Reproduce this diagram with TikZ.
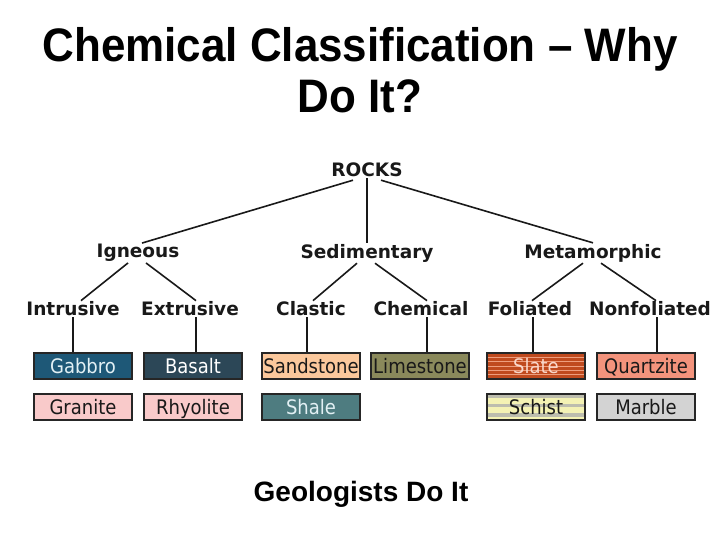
\documentclass[tikz,border=0pt]{standalone}
\usepackage{fontspec}
\setmainfont{Liberation Sans}
\newfontfamily\titlefont[FakeStretch=0.935]{Liberation Sans}
\newfontfamily\treefont{DejaVu Sans}
\newfontfamily\boxfont[FakeStretch=0.9]{DejaVu Sans}
\usetikzlibrary{positioning,calc}
\definecolor{gabbroc}{HTML}{1E5877}
\definecolor{basaltc}{HTML}{2C4757}
\definecolor{pinkc}{HTML}{F9CACA}
\definecolor{sandc}{HTML}{FBC89C}
\definecolor{limec}{HTML}{8A895B}
\definecolor{shalec}{HTML}{4E7C80}
\definecolor{slatec}{HTML}{C04A1E}
\definecolor{slatestripe}{HTML}{EE9E7E}
\definecolor{quartzc}{HTML}{F3937C}
\definecolor{schistc}{HTML}{F4F2B4}
\definecolor{schistband}{HTML}{BDBDAE}
\definecolor{marblec}{HTML}{D3D3D3}
\definecolor{lighttext}{HTML}{E2F0F4}
\tikzstyle{level}=[font=\treefont\bfseries\fontsize{18.5}{20}\selectfont,inner sep=1pt,text=black!90]
\tikzstyle{rock}=[draw=black!85,line width=2pt,minimum width=98pt,minimum height=26pt,inner sep=0pt,text height=16pt,text depth=2pt,font=\boxfont\fontsize{20}{22}\selectfont,text=black!90]
\tikzstyle{darkrock}=[rock,text=lighttext]
\tikzstyle{edge}=[line width=1.6pt,black!90]

\begin{document}
\begin{tikzpicture}[x=1pt,y=-1pt]
        \useasboundingbox [fill=white] (0,0) rectangle (720,540);
        % title and footer
        \node at (360,70) [font=\titlefont\bfseries\fontsize{47}{51}\selectfont,align=center] (title) {Chemical Classification – Why\\Do It?};
        \node at (361,494) [font=\bfseries\fontsize{28}{30}\selectfont] (footer) {Geologists Do It};
        % tree
        \node at (367,170) [level] (rocks) {ROCKS};
        \node at (138,253) [level] (igneous) {Igneous};
        \node at (367,253) [level] (sedimentary) {Sedimentary};
        \node at (593,253) [level] (metamorphic) {Metamorphic};
        \node at ( 73,309) [level] (intrusive) {Intrusive};
        \node at (190,309) [level] (extrusive) {Extrusive};
        \node at (311,309) [level] (clastic) {Clastic};
        \node at (421,309) [level] (chemical) {Chemical};
        \node at (530,309) [level] (foliated) {Foliated};
        \node at (650,309) [level] (nonfoliated) {Nonfoliated};
        \draw [edge] (rocks.south) ++(-14,2) coordinate (r1) (r1) -- ([xshift=4pt]igneous.north);
        \draw [edge] (rocks.south) -- (sedimentary.north);
        \draw [edge] (rocks.south) ++(14,2) coordinate (r3) (r3) -- (metamorphic.north);
        \draw [edge] ([xshift=-10pt]igneous.south) -- ([xshift=8pt]intrusive.north);
        \draw [edge] ([xshift=8pt]igneous.south) -- ([xshift=6pt]extrusive.north);
        \draw [edge] ([xshift=-10pt]sedimentary.south) -- ([xshift=2pt]clastic.north);
        \draw [edge] ([xshift=8pt]sedimentary.south) -- ([xshift=6pt]chemical.north);
        \draw [edge] ([xshift=-10pt]metamorphic.south) -- ([xshift=2pt]foliated.north);
        \draw [edge] ([xshift=8pt]metamorphic.south) -- ([xshift=6pt]nonfoliated.north);
        % rock boxes
        \node at ( 83,366) [darkrock,fill=gabbroc] (gabbro) {Gabbro};
        \node at (193,366) [darkrock,fill=basaltc,text=white] (basalt) {Basalt};
        \node at (311,366) [rock,fill=sandc] (sandstone) {Sandstone};
        \node at (420,366) [rock,fill=limec] (limestone) {Limestone};
        \node at (536,366) [darkrock,fill=slatec,text=slatestripe!40!white,
            path picture={\foreach \k in {0.17,0.33,0.5,0.67,0.83}
              \draw [slatestripe,line width=0.9pt] ($(path picture bounding box.north west)!\k!(path picture bounding box.south west)$) -- ($(path picture bounding box.north east)!\k!(path picture bounding box.south east)$);}] (slate) {Slate};
        \node at (646,366) [rock,fill=quartzc] (quartzite) {Quartzite};
        \node at ( 83,407) [rock,fill=pinkc] (granite) {Granite};
        \node at (193,407) [rock,fill=pinkc] (rhyolite) {Rhyolite};
        \node at (311,407) [darkrock,fill=shalec] (shale) {Shale};
        \node at (536,407) [rock,fill=schistc,
            path picture={\foreach \k in {0.1,0.45,0.8}
              \draw [schistband,line width=3.5pt] ($(path picture bounding box.north west)!\k!(path picture bounding box.south west)$) -- ($(path picture bounding box.north east)!\k!(path picture bounding box.south east)$);}] (schist) {Schist};
        \node at (646,407) [rock,fill=marblec] (marble) {Marble};
        \draw [edge] (intrusive.south) -- (intrusive.south |- gabbro.north);
        \draw [edge] ([xshift=6pt]extrusive.south) -- ([xshift=6pt]extrusive.south |- basalt.north);
        \draw [edge] ([xshift=-4pt]clastic.south) -- ([xshift=-4pt]clastic.south |- sandstone.north);
        \draw [edge] ([xshift=6pt]chemical.south) -- ([xshift=6pt]chemical.south |- limestone.north);
        \draw [edge] ([xshift=3pt]foliated.south) -- ([xshift=3pt]foliated.south |- slate.north);
        \draw [edge] ([xshift=7pt]nonfoliated.south) -- ([xshift=7pt]nonfoliated.south |- quartzite.north);
      \end{tikzpicture}
\end{document}
